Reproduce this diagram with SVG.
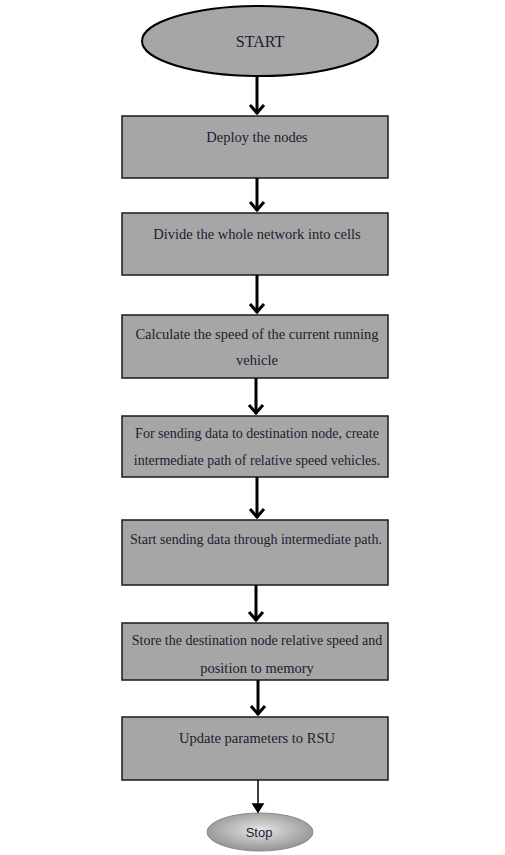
<svg xmlns="http://www.w3.org/2000/svg" width="505" height="855" viewBox="0 0 505 855">
<style>
.box{fill:#a6a6a6;stroke:#1a1a1a;stroke-width:1.5}
.t{font-family:"Liberation Serif","DejaVu Serif",serif;font-size:14.5px;fill:#1c1c30;text-anchor:middle}
.s{font-size:14px}
.c{stroke:#000;stroke-width:3;fill:none}
.h{stroke:#000;stroke-width:3;fill:none;stroke-linejoin:miter}
</style>
<defs>
<radialGradient id="g" cx="0.5" cy="0.45" r="0.6">
<stop offset="0" stop-color="#e6e6e6"/>
<stop offset="1" stop-color="#8c8c8c"/>
</radialGradient>
</defs>
<rect width="505" height="855" fill="#fff"/>
<g id="start">
<ellipse cx="260" cy="41" rx="118" ry="35" fill="#a6a6a6" stroke="#000" stroke-width="2"/>
<text class="t" x="260" y="47" style="font-size:16px">START</text>
</g>
<g id="n1"><rect class="box" x="122" y="116" width="266" height="62"/><text class="t" x="257" y="142">Deploy the nodes</text></g>
<g id="n2"><rect class="box" x="122" y="213" width="266" height="62"/><text class="t" x="257" y="239">Divide the whole network into cells</text></g>
<g id="n3"><rect class="box" x="122" y="315" width="266" height="63"/><text class="t" x="257" y="339">Calculate the speed of the current running</text><text class="t" x="257" y="365">vehicle</text></g>
<g id="n4"><rect class="box" x="122" y="416" width="266" height="61"/><text class="t s" x="257" y="438">For sending data to destination node, create</text><text class="t s" x="257" y="465">intermediate path of relative speed vehicles.</text></g>
<g id="n5"><rect class="box" x="122" y="520" width="266" height="65"/><text class="t s" x="256" y="544">Start sending data through intermediate path.</text></g>
<g id="n6"><rect class="box" x="122" y="623" width="266" height="57"/><text class="t s" x="257" y="645">Store the destination node relative speed and</text><text class="t" x="257" y="673">position to memory</text></g>
<g id="n7"><rect class="box" x="122" y="717" width="266" height="63"/><text class="t" x="257" y="743">Update parameters to RSU</text></g>
<g id="stop">
<ellipse cx="260" cy="832" rx="53" ry="19" fill="url(#g)" stroke="#888" stroke-width="1"/>
<text x="259" y="837" style="font-family:'Liberation Sans','DejaVu Sans',sans-serif;font-size:13px;fill:#1c1c30;text-anchor:middle">Stop</text>
</g>
<g id="connectors">
<path class="c" d="M257 77V114"/><path class="h" d="M250 105L257 113L264 105"/>
<path class="c" d="M257 178V211"/><path class="h" d="M250 202L257 210L264 202"/>
<path class="c" d="M257 275V313"/><path class="h" d="M250 304L257 312L264 304"/>
<path class="c" d="M256 378V414"/><path class="h" d="M249 405L256 413L263 405"/>
<path class="c" d="M257 477V518"/><path class="h" d="M250 509L257 517L264 509"/>
<path class="c" d="M256 585V621"/><path class="h" d="M249 612L256 620L263 612"/>
<path class="c" d="M258 680V715"/><path class="h" d="M251 706L258 714L265 706"/>
<path d="M258 780V812" stroke="#000" stroke-width="1.5"/><path d="M253 804L258 812L263 804Z" fill="#000" stroke="#000" stroke-width="1.5"/>
</g>
</svg>
